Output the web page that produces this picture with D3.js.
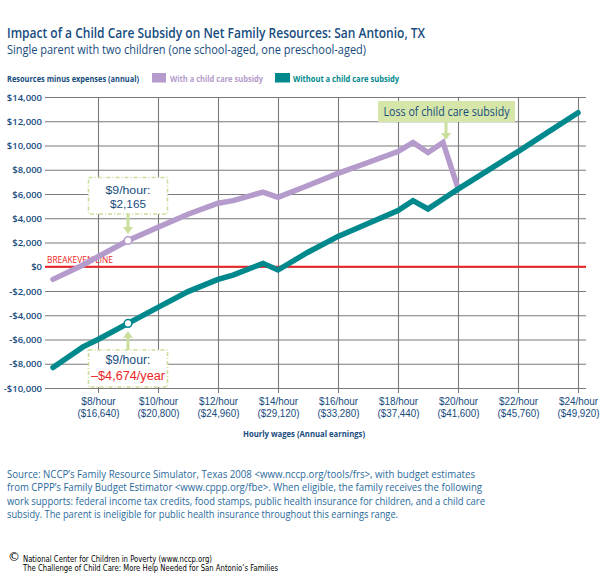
<!DOCTYPE html>
<html>
<head>
<meta charset="utf-8">
<script src="https://cdn.jsdelivr.net/npm/d3@7/dist/d3.min.js"></script>
<style>
  html, body { margin: 0; padding: 0; background: #fff; }
  svg { display: block; }
</style>
</head>
<body>
<svg id="chart" width="608" height="584"></svg>
<script>
// ---- data ----
const wages = [6.5, 7.5, 8, 9, 10, 11, 12, 12.5, 13.5, 14, 15, 16, 17, 18, 18.5, 19, 19.5, 20, 21, 22, 23, 24];
const withSubsidy = [-1040, 150, 830, 2165, 3250, 4330, 5240, 5450, 6150, 5730, 6700, 7700, 8600, 9500, 10250, 9420, 10250, 6480, null, null, null, null];
const withoutSubsidy = [-8310, -6610, -6000, -4674, -3350, -2050, -1040, -690, 280, -270, 1200, 2500, 3570, 4630, 5450, 4770, 5590, 6400, 7950, 9500, 11100, 12700];
const xTickWages = [8, 10, 12, 14, 16, 18, 20, 22, 24];
const xTickHour = ["$8/hour", "$10/hour", "$12/hour", "$14/hour", "$16/hour", "$18/hour", "$20/hour", "$22/hour", "$24/hour"];
const xTickAnnual = ["($16,640)", "($20,800)", "($24,960)", "($29,120)", "($33,280)", "($37,440)", "($41,600)", "($45,760)", "($49,920)"];
const yTicks = [-10000, -8000, -6000, -4000, -2000, 0, 2000, 4000, 6000, 8000, 10000, 12000, 14000];
const seriesNames = ["With a child care subsidy", "Without a child care subsidy"];
const highlightWage = 9;

// ---- style ----
const PURPLE = "#b49bcc", TEAL = "#00898d", NAVY = "#174c7e", BLUE = "#2a6a9c", RED = "#ee2424", GREEN = "#cadf9c";
const FONT = "'Open Sans', 'Noto Sans', sans-serif";
const FONT2 = "'Liberation Sans', Arial, sans-serif";

const svg = d3.select("#chart");
const plotL = 45, plotR = 586, plotT = 97, plotB = 388;

const x = d3.scaleLinear().domain([8, 24]).range([98, 578]);
const y = d3.scaleLinear().domain([-10000, 14000]).range([plotB, plotT]);

function txt(g, xx, yy, s, opts) {
  const t = g.append("text").attr("x", xx).attr("y", yy).text(s)
    .attr("font-family", opts.family || FONT)
    .attr("font-size", opts.size || 12)
    .attr("font-weight", opts.weight || 400)
    .attr("fill", opts.color || NAVY)
    .attr("text-anchor", opts.anchor || "start");
  if (opts.len) t.attr("textLength", opts.len).attr("lengthAdjust", "spacingAndGlyphs");
  return t;
}
// two-line text as one <text> element with tspans
function txt2(g, xx, y1, y2, lines, opts) {
  const t = g.append("text")
    .attr("font-family", opts.family || FONT)
    .attr("font-size", opts.size || 12)
    .attr("font-weight", opts.weight || 400)
    .attr("fill", opts.color || NAVY)
    .attr("text-anchor", opts.anchor || "start");
  lines.forEach((ln, i) => {
    const ts = t.append("tspan").attr("x", xx).attr("y", i === 0 ? y1 : y2).text(ln.s);
    if (ln.color) ts.attr("fill", ln.color);
    if (ln.len) ts.attr("textLength", ln.len).attr("lengthAdjust", "spacingAndGlyphs");
  });
  return t;
}

// ---- titles ----
txt(svg, 7, 37.5, "Impact of a Child Care Subsidy on Net Family Resources: San Antonio, TX", {size: 14.5, weight: 600, color: NAVY, len: 418});
txt(svg, 7, 54, "Single parent with two children (one school-aged, one preschool-aged)", {size: 12.5, weight: 400, color: NAVY, len: 359});

// ---- legend ----
txt(svg, 7, 81.5, "Resources minus expenses (annual)", {size: 9.5, weight: 700, color: NAVY, len: 132});
svg.append("rect").attr("x", 152).attr("y", 73).attr("width", 14).attr("height", 9.5).attr("fill", PURPLE);
txt(svg, 170, 81.5, seriesNames[0], {size: 9.5, weight: 700, color: PURPLE, len: 93});
svg.append("rect").attr("x", 275).attr("y", 73).attr("width", 15).attr("height", 9.5).attr("fill", TEAL);
txt(svg, 293, 81.5, seriesNames[1], {size: 9.5, weight: 700, color: TEAL, len: 106});

// ---- y axis / horizontal grid ----
const fmt = d3.format(",");
const yAxis = d3.axisLeft(y).tickValues(yTicks).tickSize(-(plotR - plotL)).tickPadding(3)
  .tickFormat(v => (v < 0 ? "-$" : "$") + fmt(Math.abs(v)));
const gy = svg.append("g").attr("transform", `translate(${plotL},0)`).call(yAxis);
gy.select(".domain").remove();
gy.selectAll(".tick line").attr("stroke", "#7a7a7a").attr("stroke-width", 1.1);
gy.selectAll(".tick text").attr("font-family", FONT).attr("font-size", 9.5).attr("font-weight", 600).attr("fill", NAVY);

// ---- x axis / vertical grid ----
const xAxis = d3.axisBottom(x).tickValues(xTickWages).tickSize(-(393 - plotT)).tickFormat("");
const gx = svg.append("g").attr("transform", `translate(0,393)`).call(xAxis);
gx.select(".domain").remove();
gx.selectAll(".tick line").attr("stroke", "#7a7a7a").attr("stroke-width", 1.1);
gx.selectAll(".tick text").remove();
gx.selectAll(".tick").each(function(d, i) {
  txt2(d3.select(this), 0, 11.5, 23.5,
    [{s: xTickHour[i], len: xTickHour[i].length * 4.9}, {s: xTickAnnual[i], len: 42}],
    {size: 10, color: NAVY, anchor: "middle", family: FONT2});
});
txt(svg, 304, 437, "Hourly wages (Annual earnings)", {size: 9.5, weight: 700, color: NAVY, anchor: "middle", len: 122});

// ---- breakeven line ----
svg.append("line").attr("x1", plotL).attr("x2", plotR).attr("y1", y(0)).attr("y2", y(0))
  .attr("stroke", RED).attr("stroke-width", 2);
txt(svg, 47, y(0) - 4, "BREAKEVEN LINE", {size: 9, color: RED, len: 66});

// ---- lines ----
const withData = wages.map((w, i) => ({w, v: withSubsidy[i]}));
const withoutData = wages.map((w, i) => ({w, v: withoutSubsidy[i]}));
const line = d3.line().defined(d => d.v !== null).x(d => x(d.w)).y(d => y(d.v));
svg.append("path").datum(withData).attr("d", line).attr("fill", "none")
  .attr("stroke", PURPLE).attr("stroke-width", 5.5).attr("stroke-linejoin", "miter").attr("stroke-linecap", "round");
svg.append("path").datum(withoutData).attr("d", line).attr("fill", "none")
  .attr("stroke", TEAL).attr("stroke-width", 5.5).attr("stroke-linejoin", "miter").attr("stroke-linecap", "round");

// ---- highlight points ----
const hi = wages.indexOf(highlightWage);
const px = x(highlightWage), pyWith = y(withSubsidy[hi]), pyWithout = y(withoutSubsidy[hi]);
svg.append("circle").attr("cx", px).attr("cy", pyWith).attr("r", 3.8).attr("fill", "#fff").attr("stroke", PURPLE).attr("stroke-width", 1.5);
svg.append("circle").attr("cx", px).attr("cy", pyWithout).attr("r", 3.8).attr("fill", "#fff").attr("stroke", TEAL).attr("stroke-width", 1.5);

// ---- annotation 1 (with subsidy) ----
const ann = svg.append("g");
ann.append("rect").attr("x", px - 39.5).attr("y", 177.5).attr("width", 79).attr("height", 36.5)
  .attr("fill", "#fff").attr("stroke", GREEN).attr("stroke-width", 1.6).attr("stroke-dasharray", "4,2,1,2");
txt2(ann, px, 194, 207.5,
  [{s: "$9/hour:", len: 45}, {s: "$" + fmt(withSubsidy[hi]), len: 36}],
  {size: 11.5, color: NAVY, anchor: "middle", family: FONT2});
ann.append("line").attr("x1", px).attr("x2", px).attr("y1", 214).attr("y2", 228).attr("stroke", GREEN).attr("stroke-width", 3);
ann.append("path").attr("d", `M${px - 5},227 L${px + 5},227 L${px},234 Z`).attr("fill", GREEN);

// ---- annotation 2 (without subsidy) ----
ann.append("rect").attr("x", px - 39.5).attr("y", 350).attr("width", 79).attr("height", 37)
  .attr("fill", "#fff").attr("stroke", GREEN).attr("stroke-width", 1.6).attr("stroke-dasharray", "4,2,1,2");
txt2(ann, px, 364, 379.5,
  [{s: "$9/hour:", len: 45}, {s: "\u2013$" + fmt(Math.abs(withoutSubsidy[hi])) + "/year", len: 74, color: RED}],
  {size: 12, color: NAVY, anchor: "middle", family: FONT2});
ann.append("line").attr("x1", px).attr("x2", px).attr("y1", 337).attr("y2", 350).attr("stroke", GREEN).attr("stroke-width", 3);
ann.append("path").attr("d", `M${px - 5},338 L${px + 5},338 L${px},331 Z`).attr("fill", GREEN);

// ---- annotation 3 (loss of subsidy) ----
ann.append("rect").attr("x", 378).attr("y", 101).attr("width", 137).attr("height", 21).attr("fill", "#d5e6a8");
txt(ann, 446.5, 116, "Loss of child care subsidy", {size: 12, color: NAVY, anchor: "middle", len: 126});
ann.append("line").attr("x1", 446).attr("x2", 446).attr("y1", 122).attr("y2", 134).attr("stroke", GREEN).attr("stroke-width", 3);
ann.append("path").attr("d", `M441,133 L451,133 L446,140 Z`).attr("fill", GREEN);

// ---- source ----
const src = [
  ["Source: NCCP\u2019s Family Resource Simulator, Texas 2008 <www.nccp.org/tools/frs>, with budget estimates", 468],
  ["from CPPP\u2019s Family Budget Estimator <www.cppp.org/fbe>. When eligible, the family receives the following", 475],
  ["work supports: federal income tax credits, food stamps, public health insurance for children, and a child care", 478],
  ["subsidy. The parent is ineligible for public health insurance throughout this earnings range.", 391]
];
src.forEach((s, i) => txt(svg, 7, 477.5 + i * 13.5, s[0], {size: 11.5, color: BLUE, len: s[1]}));

// ---- footer ----
txt(svg, 8, 561, "\u00A9", {size: 12, color: "#000", family: "'DejaVu Sans', sans-serif"});
txt(svg, 23, 561.5, "National Center for Children in Poverty (www.nccp.org)", {size: 8.5, color: "#000", family: "'DejaVu Sans', sans-serif", len: 189});
txt(svg, 23, 571, "The Challenge of Child Care: More Help Needed for San Antonio\u2019s Families", {size: 8.5, color: "#000", family: "'DejaVu Sans', sans-serif", len: 255});
</script>
</body>
</html>
